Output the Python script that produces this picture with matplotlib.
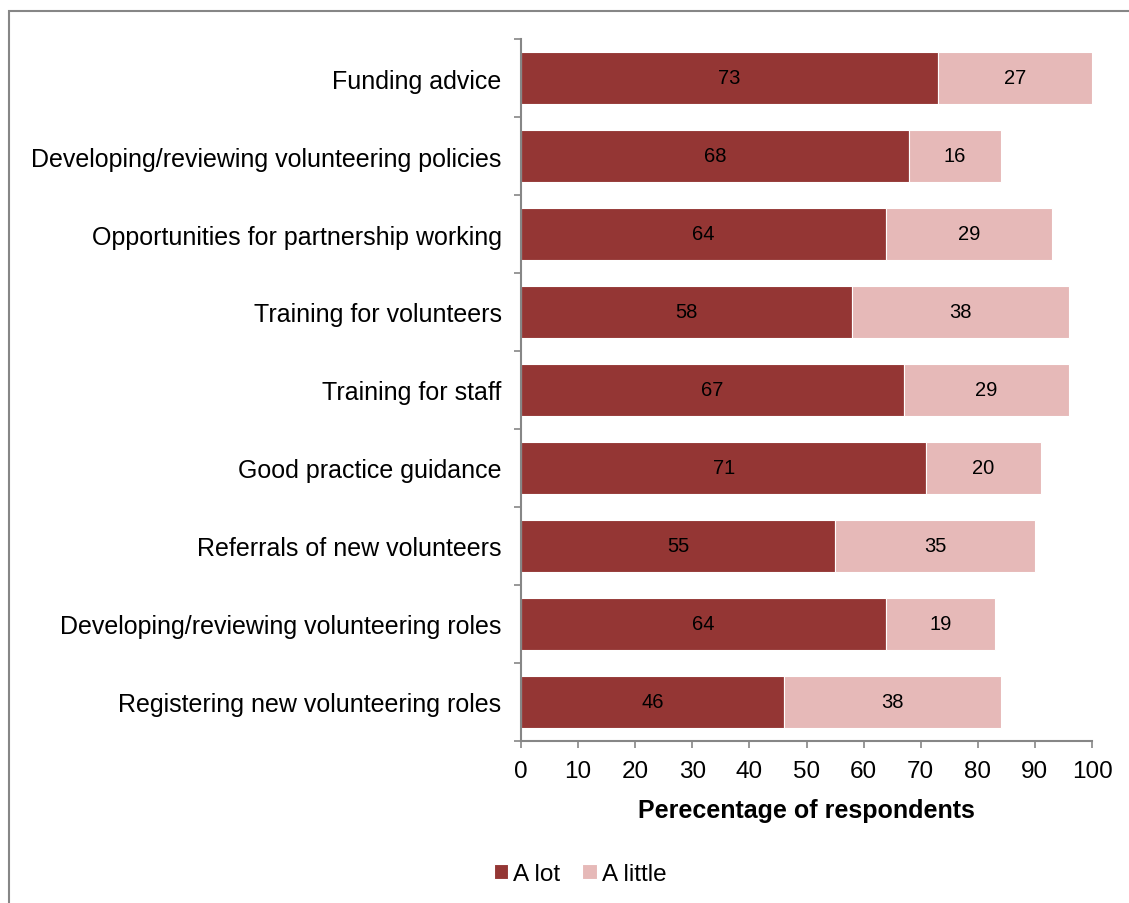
import numpy as np
import matplotlib.pyplot as plt
from matplotlib.patches import Rectangle

plt.rcParams['font.family'] = ['Liberation Sans', 'DejaVu Sans']

categories = [
    "Funding advice",
    "Developing/reviewing volunteering policies",
    "Opportunities for partnership working",
    "Training for volunteers",
    "Training for staff",
    "Good practice guidance",
    "Referrals of new volunteers",
    "Developing/reviewing volunteering roles",
    "Registering new volunteering roles",
]
a_lot = [73, 68, 64, 58, 67, 71, 55, 64, 46]
a_little = [27, 16, 29, 38, 29, 20, 35, 19, 38]

dark_red = "#943634"
pink = "#E6B9B8"
grey = "#868686"

fig = plt.figure(figsize=(11.29, 9.04), dpi=100)
ax = fig.add_axes([521 / 1129, 1 - 742 / 904, 571 / 1129, 702 / 904])

# outer chart frame
fig.patches.append(Rectangle((9 / 1129, -0.05), 1.2, 1 - 12 / 904 + 0.05,
                             transform=fig.transFigure, fill=False,
                             edgecolor=grey, linewidth=1.5))

y = np.arange(len(categories))
h = 0.66
b1 = ax.barh(y, a_lot, height=h, color=dark_red, edgecolor="white",
             linewidth=0.8, label="A lot")
b2 = ax.barh(y, a_little, left=a_lot, height=h, color=pink,
             edgecolor="white", linewidth=0.8, label="A little")

for bars in (b1, b2):
    ax.bar_label(bars, labels=[str(int(r.get_width())) for r in bars],
                 label_type="center", fontsize=14.5, color="black")

ax.set_xlim(0, 100)
ax.set_ylim(len(categories) - 0.5, -0.5)
ax.set_xticks(np.arange(0, 101, 10))
ax.set_yticks(y)
ax.set_yticklabels(categories)
ax.set_yticks(np.arange(-0.5, len(categories)), minor=True)

ax.tick_params(axis="y", which="major", length=0, pad=14, labelsize=18)
ax.tick_params(axis="y", which="minor", length=5, width=1.2, color=grey,
               direction="out")
ax.tick_params(axis="x", length=5, width=1.2, color=grey, direction="out",
               labelsize=17.5, pad=9)

for side in ("top", "right"):
    ax.spines[side].set_visible(False)
for side in ("left", "bottom"):
    ax.spines[side].set_color(grey)
    ax.spines[side].set_linewidth(1.5)

ax.set_xlabel("Perecentage of respondents", fontsize=18, fontweight="bold",
              labelpad=11)

fig.legend(handles=[b1, b2], labels=["A lot", "A little"], loc="center",
           bbox_to_anchor=(580 / 1129, 1 - 875 / 904), ncol=2, frameon=False,
           fontsize=17.5, handlelength=0.6, handleheight=0.6,
           handletextpad=0.2, columnspacing=0.9)

fig.savefig("out.png", dpi=100)
